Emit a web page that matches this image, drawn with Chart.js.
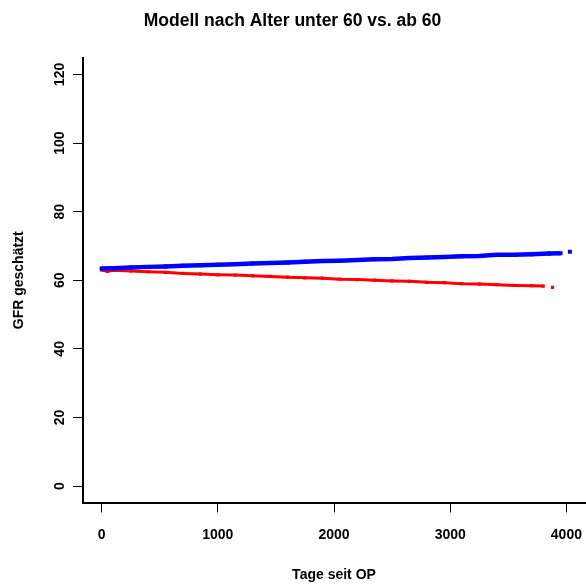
<!DOCTYPE html>
<html>
<head>
<meta charset="utf-8">
<title>Modell nach Alter</title>
<script src="https://cdn.jsdelivr.net/npm/chart.js@4/dist/chart.umd.min.js"></script>
<style>
  body { margin: 0; background: #fff; }
  canvas { display: block; }
</style>
</head>
<body>
<canvas id="gfrChart" width="586" height="584"></canvas>
<script>
// data
const chartTitle = "Modell nach Alter unter 60 vs. ab 60";
const xTitle = "Tage seit OP";
const yTitle = "GFR geschätzt";

const xTicks = [0, 1000, 2000, 3000, 4000];
const yTicks = [0, 20, 40, 60, 80, 100, 120];

// unter 60 (blue)
const blueDays = [0, 100, 250, 400, 550, 700, 850, 1000, 1150, 1300, 1450, 1600, 1750, 1900, 2050, 2200, 2350, 2500, 2650, 2800, 2950, 3100, 3250, 3400, 3550, 3700, 3850, 3950, 3990, 4030];
const blueGfr = [63.4, 63.5, 63.7, 63.9, 64.0, 64.2, 64.4, 64.5, 64.7, 64.9, 65.0, 65.2, 65.4, 65.6, 65.7, 65.9, 66.1, 66.2, 66.5, 66.6, 66.8, 67.0, 67.1, 67.4, 67.4, 67.6, 67.8, 67.9, null, 68.3];

// ab 60 (red)
const redDays = [0, 50, 100, 250, 400, 550, 700, 850, 1000, 1150, 1300, 1450, 1600, 1750, 1900, 2050, 2200, 2350, 2500, 2650, 2800, 2950, 3100, 3250, 3400, 3550, 3700, 3800, 3840, 3880];
const redGfr = [63.0, 62.6, 62.9, 62.7, 62.5, 62.3, 62.0, 61.8, 61.6, 61.5, 61.3, 61.1, 60.9, 60.7, 60.6, 60.3, 60.2, 60.0, 59.8, 59.7, 59.4, 59.3, 59.0, 58.9, 58.7, 58.5, 58.4, 58.3, null, 57.9];

const fontFamily = "'Liberation Sans', Arial, sans-serif";

function toPoints(days, values) {
  return days.map((d, i) => ({ x: d, y: values[i] }));
}

const ctx = document.getElementById("gfrChart").getContext("2d");
new Chart(ctx, {
  type: "scatter",
  data: {
    datasets: [
      {
        label: "unter 60",
        data: toPoints(blueDays, blueGfr),
        showLine: true,
        spanGaps: false,
        borderColor: "#0000ff",
        backgroundColor: "#0000ff",
        borderWidth: 4.5,
        pointStyle: "rect",
        pointRadius: 2.8,
        pointBorderWidth: 0,
      },
      {
        label: "ab 60",
        data: toPoints(redDays, redGfr),
        showLine: true,
        spanGaps: false,
        borderColor: "#ff0000",
        backgroundColor: "#ff0000",
        borderWidth: 3,
        pointStyle: "rect",
        pointRadius: 2.3,
        pointBorderWidth: 0,
      },
    ],
  },
  options: {
    responsive: false,
    animation: false,
    layout: { autoPadding: false, padding: { left: 0, right: 1, top: 0, bottom: 0 } },
    plugins: {
      legend: { display: false },
      tooltip: { enabled: false },
      title: {
        display: true,
        text: chartTitle,
        color: "#000",
        font: { family: fontFamily, size: 17.5, weight: "bold" },
        padding: { top: 11, bottom: 26 },
      },
    },
    scales: {
      x: {
        type: "linear",
        min: -160,
        max: 4160,
        afterBuildTicks: (scale) => {
          scale.ticks = xTicks.map((v) => ({ value: v }));
        },
        afterFit: (scale) => {
          scale.height = 81.5;
          scale.paddingLeft = 0;
          scale.paddingRight = 0;
        },
        grid: {
          drawOnChartArea: false,
          drawTicks: true,
          tickLength: 10,
          color: "#000",
          lineWidth: 1,
        },
        border: { display: true, color: "#000", width: 2 },
        ticks: {
          color: "#000",
          padding: 14,
          maxRotation: 0,
          callback: (value) => String(value),
          font: { family: fontFamily, size: 14, weight: "bold" },
        },
        title: {
          display: true,
          text: xTitle,
          color: "#000",
          font: { family: fontFamily, size: 14, weight: "bold" },
          padding: { top: 0, bottom: 0 },
        },
      },
      y: {
        type: "linear",
        min: -4.8,
        max: 124.8,
        afterBuildTicks: (scale) => {
          scale.ticks = yTicks.map((v) => ({ value: v }));
        },
        afterFit: (scale) => {
          scale.width = 83;
          scale.paddingTop = 0;
          scale.paddingBottom = 0;
        },
        grid: {
          drawOnChartArea: false,
          drawTicks: true,
          tickLength: 10,
          color: "#000",
          lineWidth: 1,
        },
        border: { display: true, color: "#000", width: 2 },
        ticks: {
          color: "#000",
          padding: 1,
          minRotation: 90,
          maxRotation: 90,
          crossAlign: "center",
          callback: (value) => String(value),
          font: { family: fontFamily, size: 14, weight: "bold" },
        },
        title: {
          display: true,
          text: yTitle,
          color: "#000",
          font: { family: fontFamily, size: 14, weight: "bold" },
          padding: { top: 11, bottom: 0 },
        },
      },
    },
  },
});
</script>
</body>
</html>
